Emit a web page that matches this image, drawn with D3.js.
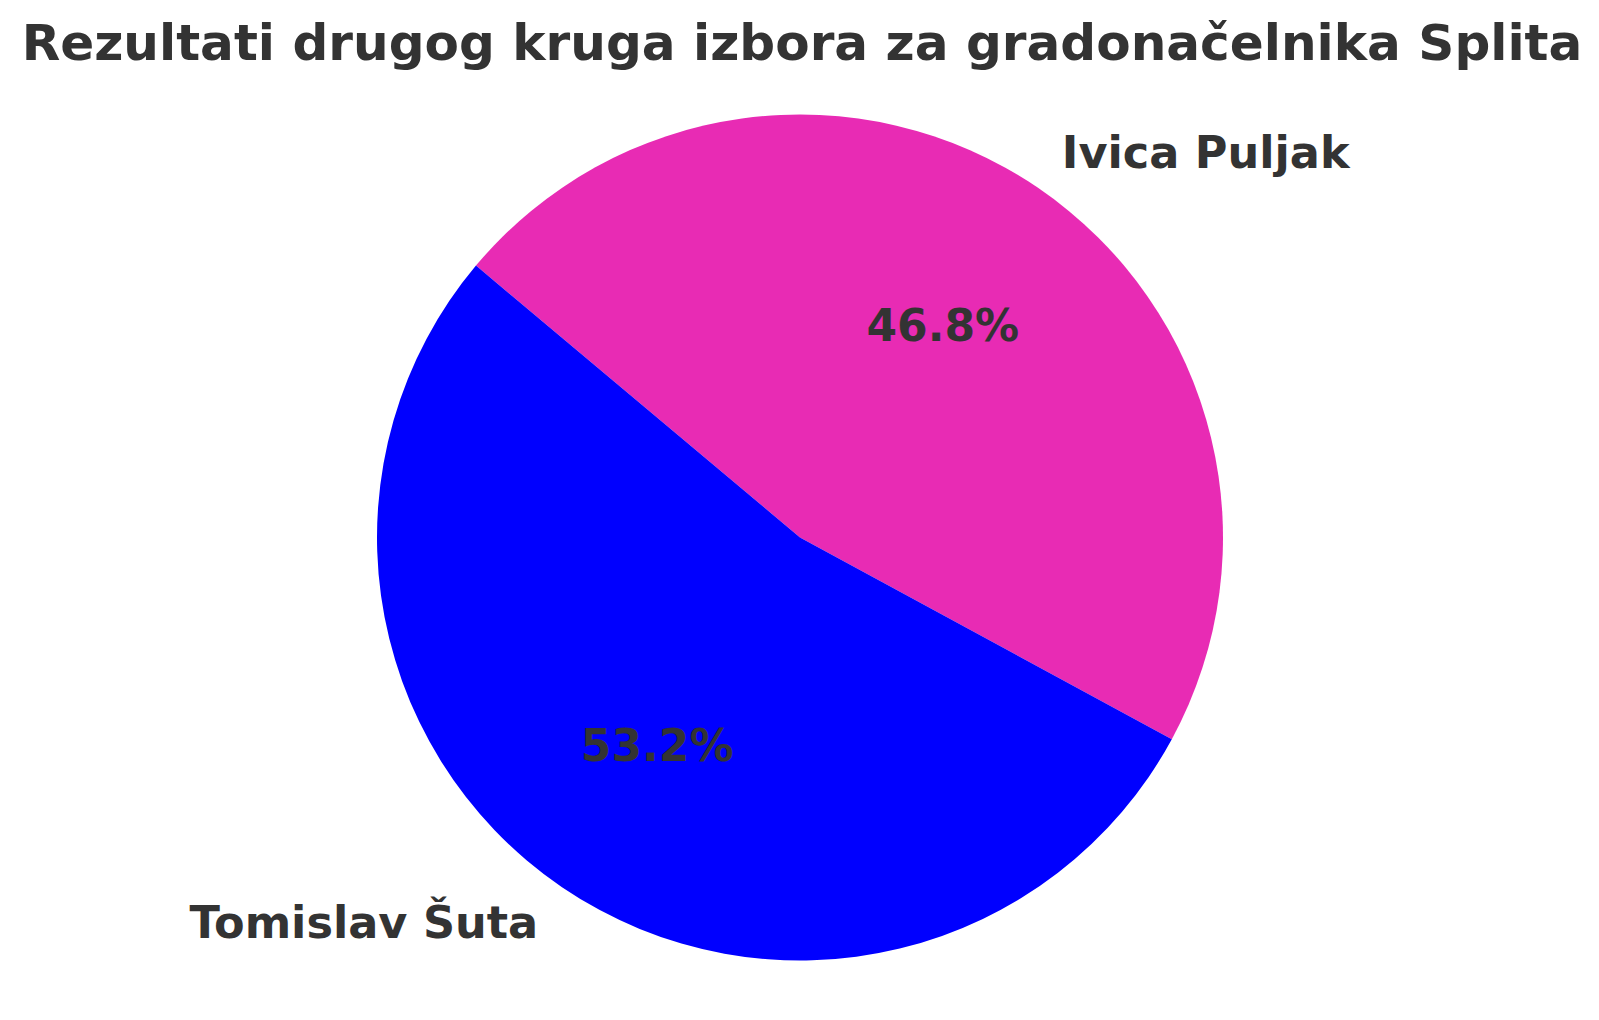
<!DOCTYPE html>
<html>
<head>
<meta charset="utf-8">
<script src="https://cdn.jsdelivr.net/npm/d3@7"></script>
<style>
  html, body { margin: 0; padding: 0; background: #ffffff; }
  svg { display: block; }
</style>
</head>
<body>
<script>
const categories = ["Ivica Puljak", "Tomislav Šuta"];
const values = [46.8, 53.2];
const colors = ["#E82BB4", "#0000FF"];
const titleText = "Rezultati drugog kruga izbora za gradonačelnika Splita";

const W = 1599, H = 1020;
const cx = 800, cy = 537.5, R = 423;

const svg = d3.select("body").append("svg").attr("width", W).attr("height", H);

svg.append("text")
  .attr("x", 802).attr("y", 60)
  .attr("text-anchor", "middle")
  .style("font-family", "'DejaVu Sans', sans-serif")
  .style("font-weight", "bold")
  .style("font-size", "50.1px")
  .style("fill", "#333333")
  .text(titleText);

const data = categories.map((c, i) => ({ name: c, value: values[i], color: colors[i] }));
const pie = d3.pie().sort(null).value(d => d.value)
  .startAngle(-50 * Math.PI / 180)
  .endAngle(310 * Math.PI / 180);
const arcs = pie(data);

const g = svg.append("g").attr("transform", `translate(${cx},${cy})`);
const arc = d3.arc().innerRadius(0).outerRadius(R);
const pctArc = d3.arc().innerRadius(0.6 * R).outerRadius(0.6 * R);
const lblArc = d3.arc().innerRadius(1.1 * R).outerRadius(1.1 * R);

g.selectAll("path.slice").data(arcs).enter().append("path")
  .attr("class", "slice")
  .attr("d", arc)
  .attr("fill", d => d.data.color);

g.selectAll("text.pct").data(arcs).enter().append("text")
  .attr("class", "pct")
  .attr("transform", d => `translate(${pctArc.centroid(d)})`)
  .attr("text-anchor", "middle")
  .attr("dy", "0.3em")
  .style("font-family", "'DejaVu Sans', sans-serif")
  .style("font-weight", "bold")
  .style("font-size", "44px")
  .style("fill", "#333333")
  .text(d => d.data.value.toFixed(1) + "%");

g.selectAll("text.lbl").data(arcs).enter().append("text")
  .attr("class", "lbl")
  .attr("transform", d => `translate(${lblArc.centroid(d)})`)
  .attr("text-anchor", d => lblArc.centroid(d)[0] < 0 ? "end" : "start")
  .attr("dy", "0.35em")
  .style("font-family", "'DejaVu Sans', sans-serif")
  .style("font-weight", "bold")
  .style("font-size", "44.6px")
  .style("fill", "#333333")
  .text(d => d.data.name);
</script>
</body>
</html>
